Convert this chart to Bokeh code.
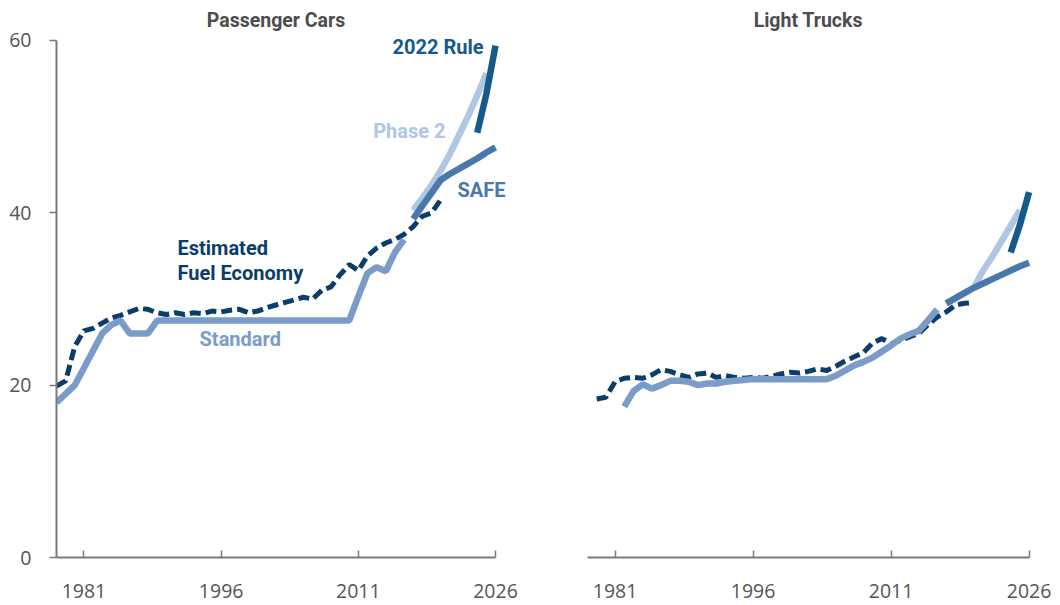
from bokeh.plotting import figure
from bokeh.layouts import row
from bokeh.models import Label, FixedTicker, Range1d
from bokeh.embed import file_html
from bokeh.resources import INLINE

# ---------------- data ----------------
x_ticks = [1981, 1996, 2011, 2026]
y_ticks = [0, 20, 40, 60]
panel_titles = ["Passenger Cars", "Light Trucks"]

# Passenger cars
car_est_years = list(range(1978, 2021))
car_est = [19.9, 20.5, 24.5, 26.3, 26.6, 27.2, 27.8, 28.1, 28.5, 28.9,
           28.8, 28.4, 28.2, 28.4, 28.2, 28.4, 28.3, 28.6, 28.5, 28.7,
           28.8, 28.4, 28.6, 29.0, 29.3, 29.6, 29.9, 30.2, 30.0, 31.0,
           31.4, 32.8, 34.0, 33.3, 35.0, 35.9, 36.5, 36.9, 37.5, 38.4,
           39.6, 40.0, 41.5]
car_std_years = list(range(1978, 2017))
car_std = [18.0, 19.0, 20.0, 22.0, 24.0, 26.0, 27.0, 27.5, 26.0, 26.0,
           26.0, 27.5, 27.5, 27.5, 27.5, 27.5, 27.5, 27.5, 27.5, 27.5,
           27.5, 27.5, 27.5, 27.5, 27.5, 27.5, 27.5, 27.5, 27.5, 27.5,
           27.5, 27.5, 27.5, 30.3, 33.0, 33.7, 33.2, 35.4, 36.9]
car_ph2_years = list(range(2017, 2026))
car_ph2 = [40.3, 41.7, 43.2, 44.9, 46.8, 49.0, 51.2, 53.6, 56.2]
car_safe_years = list(range(2017, 2027))
car_safe = [39.3, 40.8, 42.3, 43.8, 44.5, 45.1, 45.7, 46.3, 47.0, 47.6]
car_r22_years = [2024, 2025, 2026]
car_r22 = [49.3, 53.8, 59.4]

# Light trucks
trk_est_years = list(range(1979, 2021))
trk_est = [18.4, 18.6, 20.4, 20.8, 20.9, 20.8, 21.2, 21.8, 21.6, 21.2,
           20.9, 21.3, 21.4, 20.9, 21.1, 20.9, 20.8, 20.9, 20.8, 21.0,
           21.3, 21.5, 21.4, 21.6, 21.9, 21.7, 22.2, 22.8, 23.3, 23.8,
           24.9, 25.4, 24.8, 25.2, 25.6, 26.0, 27.0, 27.9, 28.5, 29.3,
           29.5, 29.6]
trk_std_years = list(range(1982, 2017))
trk_std = [17.5, 19.3, 20.1, 19.6, 20.0, 20.5, 20.5, 20.4, 20.0, 20.2,
           20.2, 20.4, 20.5, 20.6, 20.7, 20.7, 20.7, 20.7, 20.7, 20.7,
           20.7, 20.7, 20.7, 21.1, 21.7, 22.3, 22.7, 23.2, 23.9, 24.6,
           25.4, 25.9, 26.3, 27.5, 28.8]
trk_ph2_years = list(range(2017, 2026))
trk_ph2 = [29.5, 30.1, 30.7, 31.3, 33.3, 34.9, 36.7, 38.5, 40.3]
trk_safe_years = list(range(2017, 2027))
trk_safe = [29.5, 30.1, 30.7, 31.3, 31.8, 32.3, 32.8, 33.3, 33.8, 34.2]
trk_r22_years = [2024, 2025, 2026]
trk_r22 = [35.4, 38.6, 42.4]

# ---------------- style ----------------
C_EST = "#0b3d6b"
C_STD = "#7b9cc8"
C_PH2 = "#b0c6e4"
C_SAFE = "#4a78a8"
C_R22 = "#145a8c"
AXIS = "#7a7a7a"
TXT = "#555555"
TITLE = "#4d4d4d"

Y_TOP = 552 / 8.617  # room above 60 for the panel title


def make_fig(left_border, frame_w, px_per_year, show_y):
    x_end = 1978 + frame_w / px_per_year
    p = figure(
        output_backend="svg", toolbar_location=None,
        frame_width=frame_w, frame_height=552,
        min_border_left=left_border, min_border_right=0,
        min_border_top=5, min_border_bottom=48,
        x_range=Range1d(1978, x_end), y_range=Range1d(0, Y_TOP),
        y_axis_location="left" if show_y else None,
    )
    p.outline_line_color = None
    p.grid.visible = False
    p.background_fill_color = "white"
    p.border_fill_color = "white"

    ax = p.xaxis[0]
    ax.ticker = FixedTicker(ticks=x_ticks)
    ax.bounds = (1978, 2026)
    ax.major_tick_in = 7
    ax.major_tick_out = 0
    ax.minor_tick_line_color = None
    ax.axis_line_color = AXIS
    ax.axis_line_width = 2
    ax.major_tick_line_color = AXIS
    ax.major_tick_line_width = 1.5
    ax.major_label_text_font = "Open Sans"
    ax.major_label_text_font_size = "19.5px"
    ax.major_label_text_color = TXT
    ax.major_label_standoff = 26

    if show_y:
        ay = p.yaxis[0]
        ay.ticker = FixedTicker(ticks=y_ticks)
        ay.bounds = (0, 60)
        ay.major_tick_in = 0
        ay.major_tick_out = 7
        ay.minor_tick_line_color = None
        ay.axis_line_color = AXIS
        ay.axis_line_width = 2
        ay.major_tick_line_color = AXIS
        ay.major_tick_line_width = 1.5
        ay.major_label_text_font = "Open Sans"
        ay.major_label_text_font_size = "19.5px"
        ay.major_label_text_color = TXT
        ay.major_label_standoff = 18
    return p


def draw(p, est_x, est_y, std_x, std_y, ph2_x, ph2_y, safe_x, safe_y, r22_x, r22_y):
    p.line(est_x, est_y, line_color=C_EST, line_width=5, line_dash="11 5")
    p.line(std_x, std_y, line_color=C_STD, line_width=6.5)
    p.line(ph2_x, ph2_y, line_color=C_PH2, line_width=6.5)
    p.line(safe_x, safe_y, line_color=C_SAFE, line_width=6.5)
    p.line(r22_x, r22_y, line_color=C_R22, line_width=6.5)


def lab(p, x, y, text, color, align, size="20px"):
    p.add_layout(Label(x=x, y=y, text=text, text_color=color, text_align=align,
                       text_baseline="middle", text_font="Roboto",
                       text_font_size=size, text_font_style="bold"))


p1 = make_fig(56, 466, 9.146, True)
draw(p1, car_est_years, car_est, car_std_years, car_std, car_ph2_years, car_ph2,
     car_safe_years, car_safe, car_r22_years, car_r22)

p2 = make_fig(65, 469, 9.2, False)
draw(p2, trk_est_years, trk_est, trk_std_years, trk_std, trk_ph2_years, trk_ph2,
     trk_safe_years, trk_safe, trk_r22_years, trk_r22)

lab(p1, 2002.0, 62.3, panel_titles[0], TITLE, "center", "19.5px")
lab(p2, 2002.0, 62.3, panel_titles[1], TITLE, "center", "19.5px")

lab(p1, 2024.69, 59.2, "2022 Rule", C_R22, "right")
lab(p1, 2020.53, 49.55, "Phase 2", C_PH2, "right")
lab(p1, 2021.84, 42.6, "SAFE", C_SAFE, "left")
lab(p1, 1991.23, 35.86, "Estimated", C_EST, "left")
lab(p1, 1991.23, 33.07, "Fuel Economy", C_EST, "left")
lab(p1, 1993.64, 25.41, "Standard", C_STD, "left")

layout = row(p1, p2)
open("out.html", "w").write(file_html(layout, INLINE))
